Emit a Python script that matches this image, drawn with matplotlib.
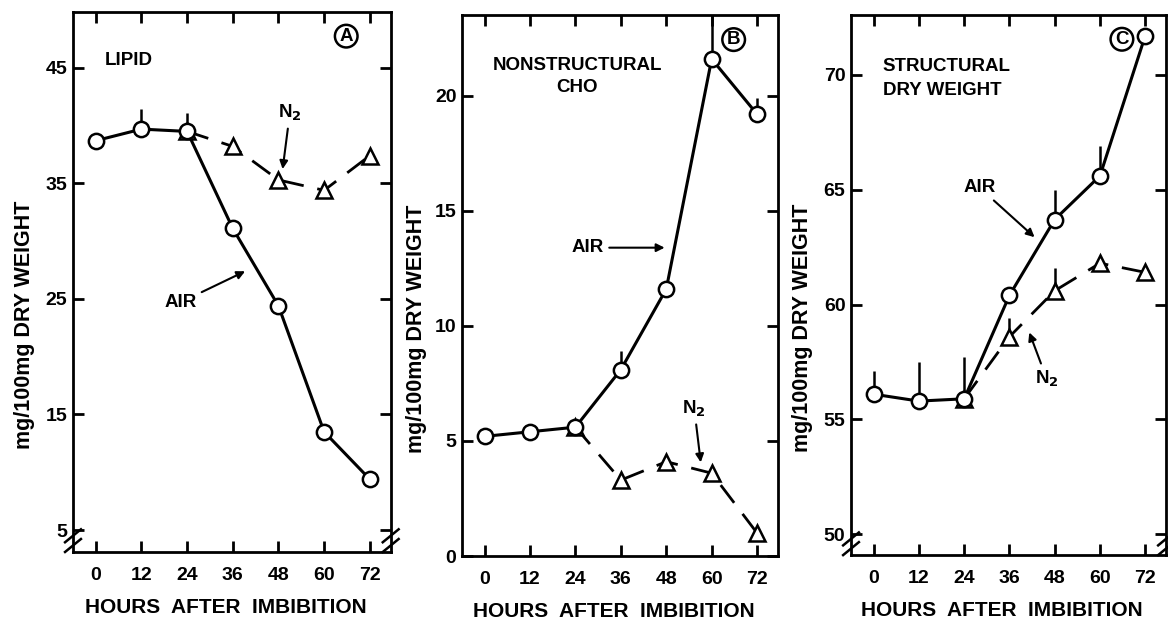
import numpy as np
import matplotlib.pyplot as plt

plt.rcParams['font.family'] = ['Liberation Sans', 'DejaVu Sans']
plt.rcParams['font.weight'] = 'bold'

hours = [0, 12, 24, 36, 48, 60, 72]
hours_n2 = [24, 36, 48, 60, 72]

# Panel A - lipid
lipid_air = [38.7, 39.7, 39.5, 31.1, 24.4, 13.5, 9.4]
lipid_n2 = [39.5, 38.2, 35.3, 34.4, 37.4]
lipid_air_err = {12: 41.4, 24: 41.1}
lipid_n2_err = {}

# Panel B - nonstructural CHO
cho_air = [5.2, 5.4, 5.6, 8.1, 11.6, 21.6, 19.2]
cho_n2 = [5.6, 3.3, 4.1, 3.6, 1.0]
cho_air_err = {36: 8.9, 60: 24.5, 72: 19.9}
cho_n2_err = {}

# Panel C - structural dry weight
sdw_air = [56.1, 55.8, 55.9, 60.4, 63.7, 65.6, 71.7]
sdw_n2 = [55.9, 58.6, 60.6, 61.8, 61.4]
sdw_air_err = {0: 57.1, 12: 57.5, 24: 57.7, 48: 65.0, 60: 66.9}
sdw_n2_err = {36: 59.4, 48: 61.6}

panels = [
    dict(air=lipid_air, n2=lipid_n2, air_err=lipid_air_err, n2_err=lipid_n2_err,
         ylim=(3.1, 49.85), yticks=[5, 15, 25, 35, 45], letter='A', brk=True,
         pos=[0.0625, 0.114, 0.272, 0.867], ylx=-0.12),
    dict(air=cho_air, n2=cho_n2, air_err=cho_air_err, n2_err=cho_n2_err,
         ylim=(0, 23.5), yticks=[0, 5, 10, 15, 20], letter='B', brk=False,
         pos=[0.3955, 0.1075, 0.2705, 0.868], ylx=-0.11),
    dict(air=sdw_air, n2=sdw_n2, air_err=sdw_air_err, n2_err=sdw_n2_err,
         ylim=(49.1, 72.6), yticks=[50, 55, 60, 65, 70], letter='C', brk=True,
         pos=[0.7286, 0.109, 0.2697, 0.867], ylx=-0.12),
]

fig = plt.figure(figsize=(11.68, 6.23), dpi=100)
axes = []
for p in panels:
    ax = fig.add_axes(p['pos'])
    axes.append(ax)
    # one-sided error bars
    for x, top in p['air_err'].items():
        ax.vlines(x, p['air'][hours.index(x)], top, color='k', lw=1.8, zorder=1)
    for x, top in p['n2_err'].items():
        ax.vlines(x, p['n2'][hours_n2.index(x)], top, color='k', lw=1.8, zorder=1)
    ax.plot(hours_n2, p['n2'], color='k', lw=2, ls=(0, (8, 5)), marker='^',
            ms=12, mfc='white', mec='k', mew=1.8, zorder=2)
    ax.plot(hours, p['air'], color='k', lw=2.2, marker='o', ms=11,
            mfc='white', mec='k', mew=1.8, zorder=3)
    ax.set_xlim(-6, 77.5)
    ax.set_ylim(*p['ylim'])
    ax.set_xticks(hours)
    ax.set_yticks(p['yticks'])
    ax.tick_params(direction='in', top=True, right=True, length=8, width=2,
                   labelsize=14)
    ax.tick_params(axis='x', pad=11)
    ax.tick_params(axis='y', pad=4)
    for s in ax.spines.values():
        s.set_linewidth(2)
    ax.set_xlabel('HOURS  AFTER  IMBIBITION', fontsize=15, fontweight='bold')
    ax.xaxis.set_label_coords(0.48, -0.085)
    ax.set_ylabel('mg/100mg DRY WEIGHT', fontsize=15.5, fontweight='bold')
    ax.yaxis.set_label_coords(p['ylx'], 0.42)
    ax.text(0.86, 0.955, p['letter'], transform=ax.transAxes, fontsize=13.5,
            fontweight='bold', ha='center', va='center',
            bbox=dict(boxstyle='circle,pad=0.15', fc='white', ec='k', lw=1.8))
    if p['brk']:
        for xa in (0, 1):
            for dy in (0.012, 0.03):
                ax.plot([xa - 0.025, xa + 0.025], [dy - 0.012, dy + 0.012],
                        transform=ax.transAxes, color='k', lw=1.8,
                        clip_on=False)

arrow = dict(arrowstyle='-|>', color='k', lw=1.5, mutation_scale=12)
tkw = dict(fontsize=13.5, fontweight='bold')

ax = axes[0]
ax.text(2.4, 45.6, 'LIPID', ha='left', va='center', **tkw)
ax.annotate('N$_\\mathbf{2}$', xy=(49.0, 36.0), xytext=(51.0, 41.1),
            ha='center', va='center', arrowprops=arrow, **tkw)
ax.annotate('AIR', xy=(39.9, 27.5), xytext=(22.2, 24.7),
            ha='center', va='center', arrowprops=arrow, **tkw)

ax = axes[1]
ax.text(24.5, 21.3, 'NONSTRUCTURAL', ha='center', va='center', **tkw)
ax.text(24.5, 20.35, 'CHO', ha='center', va='center', **tkw)
ax.annotate('AIR', xy=(48.3, 13.4), xytext=(27.2, 13.4),
            ha='center', va='center', arrowprops=arrow, **tkw)
ax.annotate('N$_\\mathbf{2}$', xy=(57.2, 3.95), xytext=(55.4, 6.4),
            ha='center', va='center', arrowprops=arrow, **tkw)

ax = axes[2]
ax.text(2.4, 70.36, 'STRUCTURAL', ha='left', va='center', **tkw)
ax.text(2.4, 69.33, 'DRY WEIGHT', ha='left', va='center', **tkw)
ax.annotate('AIR', xy=(43.2, 62.85), xytext=(28.0, 65.1),
            ha='center', va='center', arrowprops=arrow, **tkw)
ax.annotate('N$_\\mathbf{2}$', xy=(41.0, 58.9), xytext=(45.9, 56.76),
            ha='center', va='center', arrowprops=arrow, **tkw)

fig.savefig('out.png', dpi=100)
